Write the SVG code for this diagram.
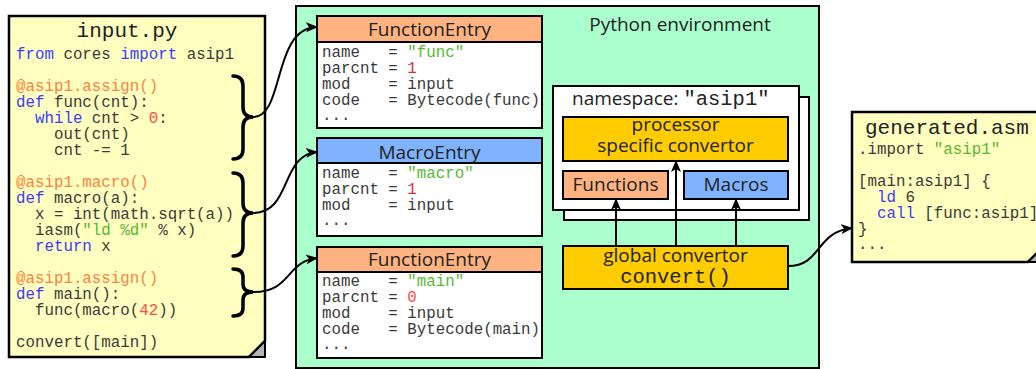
<svg xmlns="http://www.w3.org/2000/svg" width="1036" height="369" viewBox="0 0 1036 369">
  <style>
    text { white-space: pre; }
    .mono { font-family: "Liberation Mono", "DejaVu Sans Mono", monospace; font-size: 15.8px; fill: #3a3a3a; }
    .title { font-family: "Liberation Mono", monospace; font-size: 21px; fill: #222222; }
    .sans { font-family: "Open Sans", "Noto Sans", sans-serif; font-size: 19px; fill: #222222; }
    .kw { fill: #3b3bff; }
    .deco { fill: #ff7f3f; }
    .str { fill: #55b833; }
    .num { fill: #ff4a4a; }
    .num2 { fill: #cc3333; }
    .note { fill: #ffffc0; stroke: #000; stroke-width: 2.5; }
    .fold { fill: #b3b3b3; stroke: #000; stroke-width: 2; stroke-linejoin: round; }
    .box { stroke: #000; stroke-width: 2; }
    .brace { fill: none; stroke: #000; stroke-width: 3.5; stroke-linecap: round; }
    .wire { fill: none; stroke: #000; stroke-width: 2; }
  </style>
  <defs>
    <marker id="arrow" viewBox="0 0 12 10" refX="11" refY="5" markerWidth="12" markerHeight="10" markerUnits="userSpaceOnUse" orient="auto">
      <path d="M0,0 L12,5 L0,10 L3,5 Z" fill="#000"/>
    </marker>
  </defs>

  <!-- source file note -->
  <g id="input-py">
    <path class="note" d="M9,16 H265 V341 L249,357 H9 Z"/>
    <path class="fold" d="M265,341 L249,357 L265,357 Z"/>
    <text class="title" x="127" y="37" text-anchor="middle">input.py</text>
    <text class="mono" x="16" y="59"><tspan class="kw">from</tspan> cores <tspan class="kw">import</tspan> asip1</text>
    <text class="mono" x="16" y="91"><tspan class="deco">@asip1.assign()</tspan></text>
    <text class="mono" x="16" y="107"><tspan class="kw">def</tspan> func(cnt):</text>
    <text class="mono" x="16" y="123">  <tspan class="kw">while</tspan> cnt &gt; <tspan class="num">0</tspan>:</text>
    <text class="mono" x="16" y="139">    out(cnt)</text>
    <text class="mono" x="16" y="155">    cnt -= 1</text>
    <text class="mono" x="16" y="187"><tspan class="deco">@asip1.macro()</tspan></text>
    <text class="mono" x="16" y="203"><tspan class="kw">def</tspan> macro(a):</text>
    <text class="mono" x="16" y="219">  x = int(math.sqrt(a))</text>
    <text class="mono" x="16" y="235">  iasm(<tspan class="str">"ld %d"</tspan> % x)</text>
    <text class="mono" x="16" y="251">  <tspan class="kw">return</tspan> x</text>
    <text class="mono" x="16" y="283"><tspan class="deco">@asip1.assign()</tspan></text>
    <text class="mono" x="16" y="299"><tspan class="kw">def</tspan> main():</text>
    <text class="mono" x="16" y="315">  func(macro(<tspan class="num">42</tspan>))</text>
    <text class="mono" x="16" y="347">convert([main])</text>
  </g>

  <!-- braces grouping the decorated definitions -->
  <g id="braces">
    <path class="brace" d="M233,76 Q243,76 243,86 V107 Q243,117 253,117 Q243,117 243,127 V149 Q243,159 233,159"/>
    <path class="brace" d="M233,173 Q243,173 243,183 V203 Q243,213 253,213 Q243,213 243,223 V246 Q243,256 233,256"/>
    <path class="brace" d="M233,269 Q243,269 243,277 V284 Q243,292 253,292 Q243,292 243,300 V308 Q243,316 233,316"/>
  </g>

  <!-- Python environment container -->
  <g id="python-env">
    <rect x="296" y="6" width="523" height="362" fill="#aaffcc" stroke="#000" stroke-width="2"/>
    <text class="sans" x="680" y="31" text-anchor="middle">Python environment</text>
  </g>

  <g id="function-entry-func">
    <rect class="box" x="317" y="16" width="225" height="26" fill="#ffb380"/>
    <rect class="box" x="317" y="42" width="225" height="86" fill="#ffffff"/>
    <text class="sans" x="429.5" y="35.5" text-anchor="middle">FunctionEntry</text>
    <text class="mono" x="322" y="57">name   = <tspan class="str">"func"</tspan></text>
    <text class="mono" x="322" y="73">parcnt = <tspan class="num2">1</tspan></text>
    <text class="mono" x="322" y="89">mod    = input</text>
    <text class="mono" x="322" y="105">code   = Bytecode(func)</text>
    <text class="mono" x="322" y="120">...</text>
  </g>

  <g id="macro-entry">
    <rect class="box" x="317" y="138" width="225" height="25" fill="#80b3ff"/>
    <rect class="box" x="317" y="163" width="225" height="73" fill="#ffffff"/>
    <text class="sans" x="429.5" y="158.5" text-anchor="middle">MacroEntry</text>
    <text class="mono" x="322" y="178">name   = <tspan class="str">"macro"</tspan></text>
    <text class="mono" x="322" y="194">parcnt = <tspan class="num2">1</tspan></text>
    <text class="mono" x="322" y="210">mod    = input</text>
    <text class="mono" x="322" y="225">...</text>
  </g>

  <g id="function-entry-main">
    <rect class="box" x="317" y="247" width="225" height="25" fill="#ffb380"/>
    <rect class="box" x="317" y="272" width="225" height="86" fill="#ffffff"/>
    <text class="sans" x="429.5" y="266" text-anchor="middle">FunctionEntry</text>
    <text class="mono" x="322" y="286">name   = <tspan class="str">"main"</tspan></text>
    <text class="mono" x="322" y="302">parcnt = <tspan class="num">0</tspan></text>
    <text class="mono" x="322" y="318">mod    = input</text>
    <text class="mono" x="322" y="334">code   = Bytecode(main)</text>
    <text class="mono" x="322" y="349">...</text>
  </g>

  <!-- processor namespace (stacked) -->
  <g id="namespace">
    <rect class="box" x="564" y="97" width="245" height="123" fill="#ffffff"/>
    <rect class="box" x="553" y="86" width="246" height="124" fill="#ffffff"/>
    <text class="sans" x="572" y="105">namespace: <tspan style="font-family: 'Liberation Mono', monospace; font-size: 20.5px;">"asip1"</tspan></text>
  </g>

  <g id="processor-convertor">
    <rect class="box" x="563" y="117" width="225" height="44" fill="#ffcc00"/>
    <text class="sans" x="675.5" y="131" text-anchor="middle">processor</text>
    <text class="sans" x="675.5" y="152" text-anchor="middle">specific convertor</text>
  </g>

  <g id="functions">
    <rect class="box" x="563" y="171" width="105" height="28" fill="#ffb380"/>
    <text class="sans" x="615.5" y="191" text-anchor="middle">Functions</text>
  </g>

  <g id="macros">
    <rect class="box" x="684" y="171" width="104" height="28" fill="#80b3ff"/>
    <text class="sans" x="736" y="191" text-anchor="middle">Macros</text>
  </g>

  <g id="global-convertor">
    <rect class="box" x="563" y="246" width="225" height="43" fill="#ffcc00"/>
    <text class="sans" x="675.5" y="262" text-anchor="middle">global convertor</text>
    <text class="title" x="675.5" y="283" text-anchor="middle" style="font-size: 20.5px;">convert()</text>
  </g>

  <!-- generated assembly note -->
  <g id="generated-asm">
    <path class="note" d="M852,112 H1040 V250 L1028,262 H852 Z"/>
    <path class="fold" d="M1040,250 L1028,262 L1040,262 Z"/>
    <text class="title" x="865" y="134">generated.asm</text>
    <text class="mono" x="858" y="154">.import <tspan class="str">"asip1"</tspan></text>
    <text class="mono" x="858" y="186">[main:asip1] {</text>
    <text class="mono" x="858" y="202">  <tspan class="kw">ld</tspan> 6</text>
    <text class="mono" x="858" y="218">  <tspan class="kw">call</tspan> [func:asip1]</text>
    <text class="mono" x="858" y="234">}</text>
    <text class="mono" x="858" y="249">...</text>
  </g>

  <!-- connectors -->
  <g id="connectors">
    <path class="wire" marker-end="url(#arrow)" d="M253,117 C285,117 272,28 317,27"/>
    <path class="wire" marker-end="url(#arrow)" d="M253,213 C292,213 280,155 317,152"/>
    <path class="wire" marker-end="url(#arrow)" d="M253,292 C292,292 285,262 317,258"/>
    <path class="wire" marker-end="url(#arrow)" d="M616,246 V199"/>
    <path class="wire" marker-end="url(#arrow)" d="M676,246 V161"/>
    <path class="wire" marker-end="url(#arrow)" d="M736,246 V199"/>
    <path class="wire" marker-end="url(#arrow)" d="M788,266 C822,266 815,232 852,228"/>
  </g>
</svg>
